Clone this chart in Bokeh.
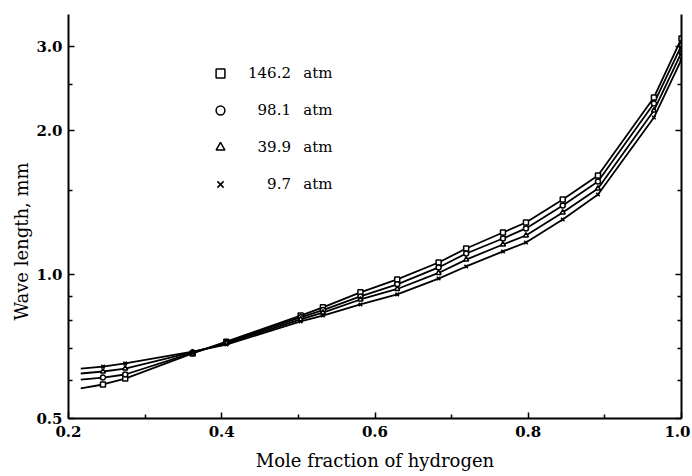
import math
from bokeh.plotting import figure
from bokeh.models import (Range1d, FixedTicker, PrintfTickFormatter, LogAxis,
                          Legend, LegendItem, CustomJSTickFormatter, Title)
from bokeh.embed import file_html
from bokeh.resources import INLINE

# ---- data ----
x_start = 0.216
mole_fraction = [0.245, 0.274, 0.362, 0.406, 0.503, 0.532, 0.581, 0.629,
                 0.683, 0.719, 0.767, 0.797, 0.845, 0.891, 0.964, 1.0]

p146_start = 0.578
p146 = [0.589, 0.606, 0.684, 0.724, 0.821, 0.854, 0.918, 0.977,
        1.060, 1.134, 1.225, 1.285, 1.436, 1.612, 2.347, 3.118]
p98_start = 0.603
p98 = [0.609, 0.618, 0.686, 0.721, 0.814, 0.843, 0.900, 0.954,
       1.035, 1.107, 1.190, 1.249, 1.395, 1.566, 2.280, 3.015]
p40_start = 0.621
p40 = [0.627, 0.636, 0.688, 0.718, 0.806, 0.833, 0.887, 0.933,
       1.008, 1.075, 1.156, 1.207, 1.349, 1.514, 2.204, 2.915]
p10_start = 0.636
p10 = [0.642, 0.652, 0.690, 0.714, 0.798, 0.821, 0.866, 0.909,
       0.981, 1.040, 1.118, 1.167, 1.304, 1.471, 2.131, 2.818]

series_labels = ["146.2", "\u200798.1", "\u200739.9", "\u2007\u20079.7"]
markers = ["square", "circle", "triangle", "x"]

x_ticks = [0.2, 0.4, 0.6, 0.8, 1.0]
x_minor = [0.3, 0.5, 0.7, 0.9]
y_ticks = [0.5, 1.0, 2.0, 3.0]
y_minor = [0.6, 0.7, 0.8, 0.9, 1.5, 2.5]

SERIF = "DejaVu Serif"

p = figure(width=690, height=476, y_axis_type="log",
           x_range=Range1d(0.2, 1.0), y_range=Range1d(0.5, 3.5),
           output_backend="svg", toolbar_location=None,
           min_border_left=68, min_border_right=9,
           min_border_top=14, min_border_bottom=58)
p.outline_line_color = None
p.grid.visible = False
p.background_fill_color = "white"

# axes
for ax in (p.xaxis[0], p.yaxis[0]):
    ax.axis_line_width = 2
    ax.major_tick_line_width = 1.5
    ax.minor_tick_line_width = 1.5
    ax.major_tick_out = 0
    ax.minor_tick_out = 0
    ax.major_tick_in = 6
    ax.minor_tick_in = 4
    ax.major_label_text_font = SERIF
    ax.major_label_text_font_size = "15px"
    ax.major_label_text_font_style = "bold"
    ax.major_label_text_color = "black"

p.xaxis.ticker = FixedTicker(ticks=x_ticks, minor_ticks=x_minor)
p.xaxis.formatter = PrintfTickFormatter(format="%.1f")
p.xaxis.major_label_standoff = 7
p.xaxis.axis_label = "Mole fraction of hydrogen"
p.xaxis.axis_label_text_font = SERIF
p.xaxis.axis_label_text_font_size = "18px"
p.xaxis.axis_label_text_font_style = "normal"
p.xaxis.axis_label_text_color = "black"
p.xaxis.axis_label_standoff = 10

p.yaxis.ticker = FixedTicker(ticks=y_ticks, minor_ticks=y_minor)
p.yaxis.formatter = PrintfTickFormatter(format="%.1f")
p.yaxis.major_label_standoff = 6

ytitle = Title(text="Wave length, mm", align="left", offset=98,
               text_font=SERIF, text_font_size="18px",
               text_font_style="normal", text_color="black", standoff=4)
p.add_layout(ytitle, "left")

rax = LogAxis(ticker=FixedTicker(ticks=y_ticks, minor_ticks=y_minor),
              formatter=CustomJSTickFormatter(code="return ''"),
              axis_line_width=2, major_tick_line_width=1.5,
              minor_tick_line_width=1.5, major_tick_out=0, minor_tick_out=0,
              major_tick_in=6, minor_tick_in=4, major_label_standoff=0)
p.add_layout(rax, "right")

# curves
all_series = [(p146_start, p146), (p98_start, p98), (p40_start, p40), (p10_start, p10)]
items = []
for start, ys in all_series:
    p.line([x_start] + mole_fraction, [start] + ys, line_color="black", line_width=1.8)
for (start, ys), lab, mk in zip(all_series, series_labels, markers):
    r = p.scatter(mole_fraction, ys, marker=mk, size=5, line_color="black",
                  fill_color="white", line_width=1.5)
    items.append(LegendItem(label=lab + "\u2002 atm", renderers=[r]))

legend = Legend(items=items, location=(141, 223), orientation="vertical",
                glyph_width=22, glyph_height=22, label_height=22, spacing=15,
                padding=0, margin=0, label_standoff=17,
                border_line_color=None, background_fill_alpha=0,
                label_text_font=SERIF, label_text_font_size="15px",
                label_text_color="black")
p.add_layout(legend, "center")

open("out.html", "w").write(file_html(p, INLINE))
